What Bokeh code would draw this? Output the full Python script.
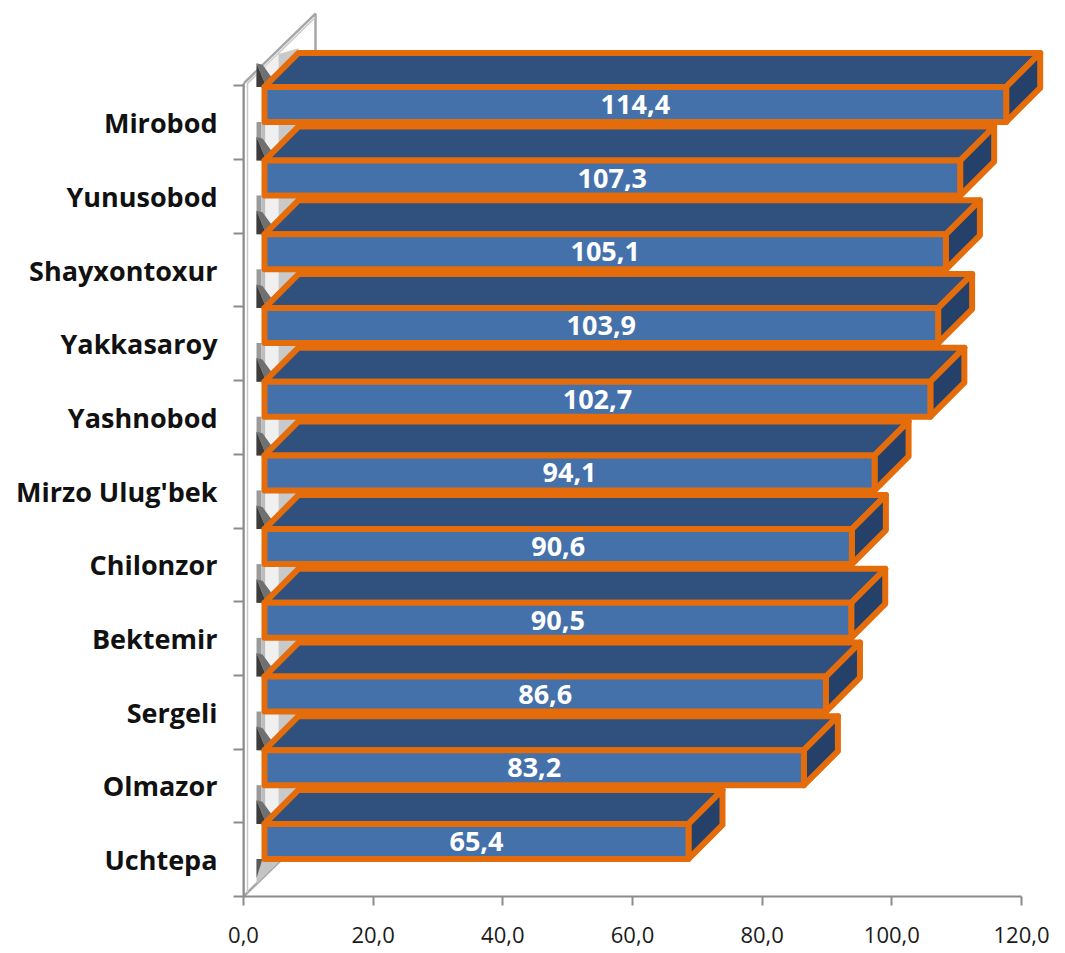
from bokeh.plotting import figure
from bokeh.models import Range1d, FixedTicker, ColumnDataSource
from bokeh.core.properties import value
from bokeh.embed import file_html
from bokeh.resources import INLINE

# ---- data (top to bottom as shown) ----
districts = ["Mirobod", "Yunusobod", "Shayxontoxur", "Yakkasaroy", "Yashnobod",
             "Mirzo Ulug'bek", "Chilonzor", "Bektemir", "Sergeli", "Olmazor", "Uchtepa"]
values = [114.4, 107.3, 105.1, 103.9, 102.7, 94.1, 90.6, 90.5, 86.6, 83.2, 65.4]
value_labels = ["114,4", "107,3", "105,1", "103,9", "102,7", "94,1", "90,6", "90,5",
                "86,6", "83,2", "65,4"]
x_ticks = [0, 20, 40, 60, 80, 100, 120]
x_tick_labels = ["0,0", "20,0", "40,0", "60,0", "80,0", "100,0", "120,0"]

# ---- layout / 3D projection constants ----
n = len(districts)
PX_X = 778 / 120.0      # pixels per x unit
PX_Y = 73.7             # pixels per category slot
W, H = 1065, 953
BL, BT, BR = 243, 10, 0
FRAME_W = W - BL - BR
FRAME_H = 886
BB = H - BT - FRAME_H

FX0 = 21 / PX_X          # front plane offset from the wall
DX = 34 / PX_X           # bar depth (x)
DY = 34 / PX_Y           # bar depth (y)
FB, FT = 0.51, 0.985     # front face bottom / top within slot
WALL_TOP = n + 0.03
WALL_DX = 72 / PX_X
WALL_DY = 70 / PX_Y
WX = 13 / PX_X           # inner wall line

ORANGE = "#E46C0A"
FRONT = "#4571AB"
TOPC = "#30507D"
SIDE = "#25416A"
AXIS = "#8C8C8C"

p = figure(width=W, height=H,
           x_range=Range1d(0, FRAME_W / PX_X), y_range=Range1d(0, FRAME_H / PX_Y),
           output_backend="svg", toolbar_location=None,
           min_border_left=BL, min_border_right=BR, min_border_top=BT, min_border_bottom=BB)
p.grid.visible = False
p.outline_line_color = None
p.background_fill_color = "white"

# ---- left wall ----
p.patch([0, 0, WALL_DX, WALL_DX], [0, WALL_TOP, WALL_TOP + WALL_DY, WALL_DY],
        fill_color="white", line_color="#A6A6A6", line_width=2.5)
s = 4 / PX_X
p.line([s, s, WALL_DX], [0.05, WALL_TOP + s / WALL_DX * WALL_DY - 0.05, WALL_TOP + WALL_DY - 0.05],
       line_color="#C8C8C8", line_width=1.5)


def wall_y(x):
    return WALL_TOP + x / WALL_DX * WALL_DY - 0.06


# ---- wall shading wedges between bars (banded gradient) ----
bands = [(0, 5, "#9A9A9A"), (5, 9, "#BDBDBD"), (9, 22, "#F0F0F0"), (22, 60, "#C9C9C9")]
wxs, wys, wcols = [], [], []
for k in range(n):
    i = n - 1 - k
    yf = i + FT

    def bottom(x):
        if x <= FX0:
            return yf
        return min(yf + (x - FX0) / DX * DY, yf + DY)

    def top(x):
        return min(i + 1 + FB, wall_y(x))

    for a, b, c in bands:
        xa = WX + a / PX_X
        xb = min(WX + b / PX_X, FX0 + DX)
        if xa >= xb:
            continue
        pts_x = [xa, xb, xb]
        pts_y = [top(xa), top(xb), bottom(xb)]
        if xa < FX0 < xb:
            pts_x.append(FX0)
            pts_y.append(yf)
        pts_x.append(xa)
        pts_y.append(bottom(xa))
        wxs.append(pts_x)
        wys.append(pts_y)
        wcols.append(c)
    # dark shadow in the lower-left corner of the wedge
    wxs.append([WX, FX0 + 2 / PX_X, WX])
    wys.append([yf, yf, yf + 0.32])
    wcols.append("#3C3C3C")
    wxs.append([FX0 + 2 / PX_X, FX0 + 9 / PX_X, WX + 6 / PX_X, WX])
    wys.append([yf, yf + 7 / PX_Y, yf + 0.3, yf + 0.32])
    wcols.append("#707070")

# shading under the lowest bar (between wall line and floor edge)
fy = FB
fx = fy / WALL_DY * WALL_DX
wxs.append([WX, fx, WX]); wys.append([fy, fy, WX / WALL_DX * WALL_DY]); wcols.append("#C4C4C4")
wxs.append([WX, WX + 6 / PX_X, WX]); wys.append([fy, fy, WX / WALL_DX * WALL_DY + 0.08]); wcols.append("#5A5A5A")
p.patches(xs="xs", ys="ys", fill_color="c", line_color=None,
          source=ColumnDataSource(dict(xs=wxs, ys=wys, c=wcols)))

# ---- 3D bars (painter's order: top bar first) ----
fxs, fys, fcols = [], [], []
for k in range(n):
    i = n - 1 - k
    v = values[k]
    x0, x1 = FX0, FX0 + v
    y0, y1 = i + FB, i + FT
    # top face
    fxs.append([x0, x1, x1 + DX, x0 + DX]); fys.append([y1, y1, y1 + DY, y1 + DY]); fcols.append(TOPC)
    # side face
    fxs.append([x1, x1 + DX, x1 + DX, x1]); fys.append([y0, y0 + DY, y1 + DY, y1]); fcols.append(SIDE)
    # front face
    fxs.append([x0, x1, x1, x0]); fys.append([y0, y0, y1, y1]); fcols.append(FRONT)
p.patches(xs="xs", ys="ys", fill_color="c", line_color=ORANGE, line_width=6,
          line_join="round", source=ColumnDataSource(dict(xs=fxs, ys=fys, c=fcols)))

# ---- value labels ----
lx = [FX0 + v / 2 for v in values]
ly = [n - 1 - k + (FB + FT) / 2 for k in range(n)]
p.text(x=lx, y=ly, text=value_labels, text_color="white", text_font=value("Open Sans"),
       text_font_style="bold", text_font_size="27px", text_align="center",
       text_baseline="middle")

# ---- axes ----
xa_ = p.xaxis[0]
xa_.ticker = FixedTicker(ticks=x_ticks)
xa_.major_label_overrides = {t: l for t, l in zip(x_ticks, x_tick_labels)}
xa_.bounds = (0, 120)
xa_.axis_line_color = AXIS
xa_.axis_line_width = 2
xa_.major_tick_line_color = AXIS
xa_.major_tick_line_width = 2
xa_.major_tick_out = 9
xa_.major_tick_in = 0
xa_.minor_tick_out = 0
xa_.minor_tick_in = 0
xa_.major_label_text_font = "Open Sans"
xa_.major_label_text_font_size = "22px"
xa_.major_label_text_color = "#1A1A1A"
xa_.major_label_text_line_height = 0.5
xa_.major_label_standoff = 21

ya = p.yaxis[0]
centers = [n - 1 - k + 0.5 for k in range(n)]
ya.ticker = FixedTicker(ticks=centers, minor_ticks=list(range(n + 1)))
ya.major_label_overrides = {c: d for c, d in zip(centers, districts)}
ya.bounds = (0, WALL_TOP)
ya.axis_line_color = AXIS
ya.axis_line_width = 2
ya.major_tick_out = 0
ya.major_tick_in = 0
ya.minor_tick_out = 10
ya.minor_tick_in = 0
ya.minor_tick_line_color = AXIS
ya.minor_tick_line_width = 2
ya.major_label_text_font = "Open Sans"
ya.major_label_text_font_style = "bold"
ya.major_label_text_font_size = "27px"
ya.major_label_text_color = "#111111"
ya.major_label_standoff = 16

open("out.html", "w").write(file_html(p, INLINE))
